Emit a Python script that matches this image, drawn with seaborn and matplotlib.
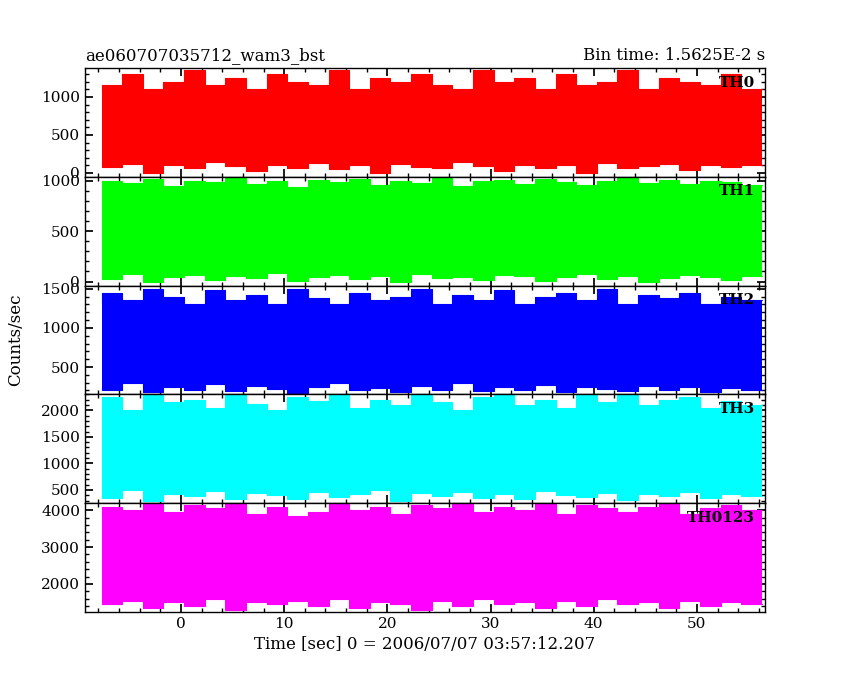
import numpy as np
import matplotlib
matplotlib.use("Agg")
import matplotlib.pyplot as plt
import seaborn as sns

sns.set_theme(style="ticks")
plt.rcParams['font.family'] = ['DejaVu Serif']
plt.rcParams['text.color'] = 'black'
plt.rcParams['axes.labelcolor'] = 'black'

time = [-7.7 + 2*i for i in range(33)]
names = ["TH0", "TH1", "TH2", "TH3", "TH0123"]
colors = ["#ff0000", "#00ff00", "#0000ff", "#00ffff", "#ff00ff"]
th0_hi = [1050,1150,1300,1100,1200,1350,1150,1250,1100,1300,1200,1150,1350,1100,1250,1200,1300,1150,1100,1350,1200,1250,1100,1300,1150,1200,1350,1100,1250,1200,1150,1300,1100]
th0_lo = [150,80,120,0,100,60,140,90,20,110,70,130,50,100,0,120,80,60,140,90,30,110,70,100,0,130,60,90,120,40,100,80,110]
th1_hi = [960,1000,980,1020,950,1000,990,1030,970,1000,940,1010,990,1020,960,1000,980,1030,950,1000,1010,970,1020,990,960,1000,1030,980,1010,970,1000,990,960]
th1_lo = [60,30,80,0,50,70,20,60,40,90,10,50,70,30,60,0,80,40,50,20,70,60,10,50,80,30,60,0,40,70,50,20,60]
th2_hi = [1300,1450,1350,1500,1400,1300,1480,1350,1420,1300,1500,1380,1300,1450,1350,1400,1500,1300,1420,1350,1480,1300,1400,1450,1350,1500,1300,1420,1380,1450,1300,1400,1350]
th2_lo = [250,200,300,180,240,210,280,190,260,220,170,250,300,200,230,180,260,210,290,190,240,200,270,180,250,220,190,260,210,240,180,230,200]
th3_hi = [2100,2250,2000,2300,2150,2200,2050,2280,2120,2000,2250,2180,2300,2050,2200,2100,2280,2150,2000,2250,2300,2100,2200,2050,2280,2150,2300,2100,2200,2250,2050,2180,2100]
th3_lo = [450,350,500,300,420,380,480,320,450,400,330,470,360,420,500,300,440,380,470,350,420,330,480,400,360,450,310,430,390,460,340,420,380]
tha_hi = [3900,4100,4000,4200,3950,4150,4050,4200,3900,4100,3850,3950,4200,4000,4100,3900,4150,4050,4200,3950,4100,4000,4200,3900,4150,4050,3950,4100,4200,3900,4050,4150,4000]
tha_lo = [1600,1450,1550,1350,1500,1400,1600,1300,1500,1450,1550,1400,1600,1350,1500,1450,1300,1550,1400,1600,1450,1500,1350,1550,1400,1600,1450,1500,1350,1550,1400,1500,1450]
highs = [th0_hi, th1_hi, th2_hi, th3_hi, tha_hi]
lows = [th0_lo, th1_lo, th2_lo, th3_lo, tha_lo]
ylims = [(-50,1380), (-40,1040), (150,1540), (250,2300), (1240,4190)]
yticks = [[0,500,1000],[0,500,1000],[500,1000,1500],[500,1000,1500,2000],[2000,3000,4000]]

fig = plt.figure(figsize=(8.5,6.8), dpi=100)
top, bot = 1-68/680, 1-612/680
h = (top-bot)/5
axes = []
for i in range(5):
    ax = fig.add_axes([85/850, top-(i+1)*h, 680/850, h])
    axes.append(ax)
    ax.fill_between(time, lows[i], highs[i], step="pre", color=colors[i], lw=0)
    sns.lineplot(x=time, y=highs[i], ax=ax, color=colors[i], lw=0.8, drawstyle="steps-pre")
    sns.lineplot(x=time, y=lows[i], ax=ax, color=colors[i], lw=0.8, drawstyle="steps-pre")
    ax.set_xlim(-9.3, 56.6)
    ax.set_ylim(*ylims[i])
    ax.set_yticks(yticks[i])
    ax.set_xticks([0,10,20,30,40,50])
    ax.minorticks_on()
    ax.tick_params(which="both", direction="in", top=True, right=True, labelsize=11, colors="black")
    ax.tick_params(which="major", length=6)
    ax.tick_params(which="minor", length=3)
    for s in ax.spines.values():
        s.set_color("black"); s.set_linewidth(1)
    ax.text(0.985, 0.93, names[i], transform=ax.transAxes, ha="right", va="top", fontsize=11, fontweight="bold")
    if i < 4:
        ax.set_xticklabels([])
axes[-1].set_xlabel("Time [sec] 0 = 2006/07/07 03:57:12.207", fontsize=12)
axes[0].set_title("ae060707035712_wam3_bst", loc="left", fontsize=12)
axes[0].set_title("Bin time: 1.5625E-2 s", loc="right", fontsize=12)
fig.text(0.008, (top+bot)/2, "Counts/sec", rotation=90, va="center", fontsize=12)
fig.patch.set_facecolor("white")
fig.savefig("out.png", dpi=100)
